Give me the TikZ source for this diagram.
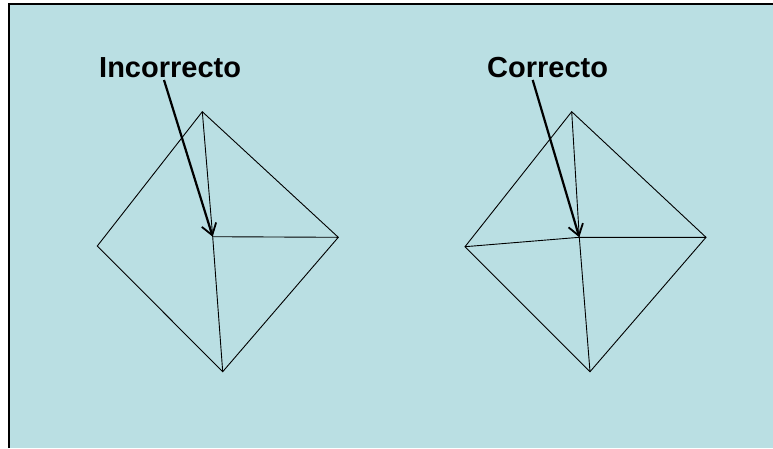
\documentclass[tikz,border=0pt]{standalone}
\usepackage{fontspec}
\setmainfont{Liberation Sans}
\usetikzlibrary{arrows.meta}
\definecolor{bgcyan}{RGB}{186,223,227}
\begin{document}
\begin{tikzpicture}[x=1pt,y=-1pt,
  edge/.style={draw=black,line width=0.9pt},
  pointer/.style={draw=black,line width=2.2pt,-{Straight Barb[length=11pt,width=15pt,line width=1.8pt]}},
  label/.style={inner sep=0pt,anchor=base west,font=\fontsize{29}{31}\selectfont\bfseries}]
\useasboundingbox (0,0) rectangle (773,448);
\fill[white] (0,0) rectangle (773,448);
\fill[bgcyan] (9,4) rectangle (773,448);
\draw[line width=1.5pt] (9,448) -- (9,4) -- (773,4);
% left diagram
\coordinate (lt) at (202.3,111.7);
\coordinate (ll) at (97.3,246);
\coordinate (lr) at (338.3,237.3);
\coordinate (lb) at (222.7,371.7);
\coordinate (lc) at (212.7,236.7);
\draw[edge] (lt) -- (ll) -- (lb) -- (lr) -- cycle;
\draw[edge] (lt) -- (lc) -- (lb);
\draw[edge] (lc) -- (lr);
\node[label] (inc) at (99,77) {Incorrecto};
\coordinate (ls) at (164,80);
\draw[pointer] (ls) -- (lc);
% right diagram
\coordinate (rt) at (571.7,111.7);
\coordinate (rl) at (465,246.7);
\coordinate (rr) at (706,237.3);
\coordinate (rb) at (590,371.7);
\coordinate (rc) at (579.3,237.3);
\draw[edge] (rt) -- (rl) -- (rb) -- (rr) -- cycle;
\draw[edge] (rt) -- (rc) -- (rb);
\draw[edge] (rl) -- (rc) -- (rr);
\node[label] (cor) at (487,77) {Correcto};
\coordinate (rs) at (532.7,80);
\draw[pointer] (rs) -- (rc);
\end{tikzpicture}
\end{document}
